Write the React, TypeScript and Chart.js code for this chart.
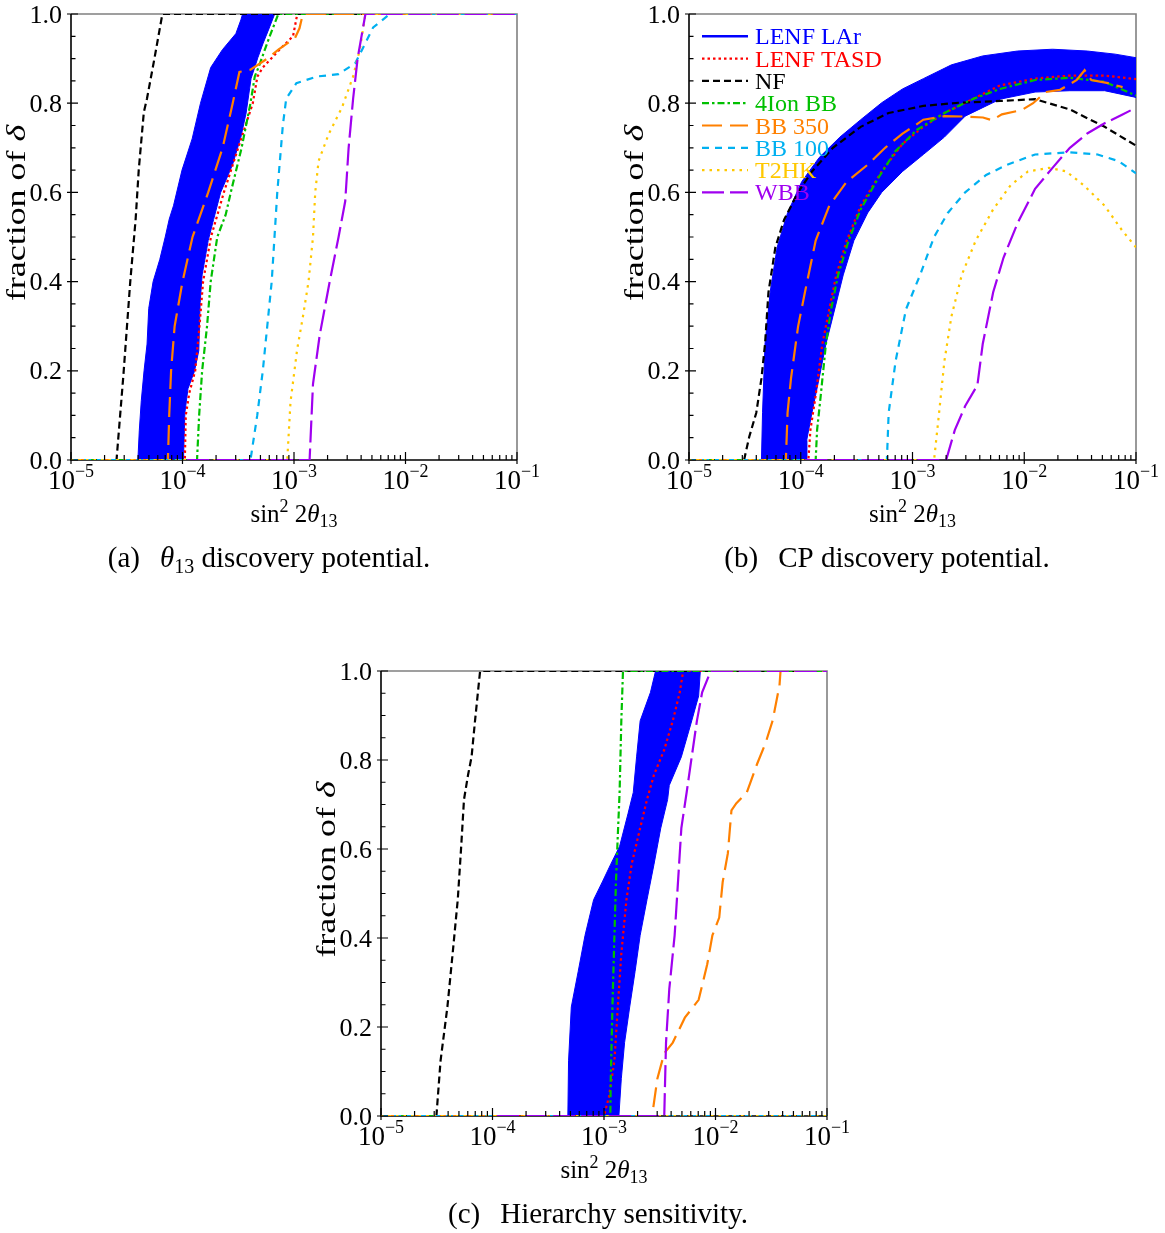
import React, { useEffect, useRef } from 'react';
import { Chart, registerables } from 'chart.js';

Chart.register(...registerables);

type Pt = [number, number];

// ---------- axes ----------
const X_MIN = 1e-5;
const X_MAX = 1e-1;
const X_DECADES = [-5, -4, -3, -2, -1];
const X_MINOR_MULT = [2, 3, 4, 5, 6, 7, 8, 9];
const Y_MAJOR = [0, 0.2, 0.4, 0.6, 0.8, 1.0];
const Y_MINOR = [0.05, 0.1, 0.15, 0.25, 0.3, 0.35, 0.45, 0.5, 0.55, 0.65, 0.7, 0.75, 0.85, 0.9, 0.95];
const SERIES = ['LENF LAr', 'LENF TASD', 'NF', '4Ion BB', 'BB 350', 'BB 100', 'T2HK', 'WBB'];

// ---------- (a) theta13 discovery ----------
const A_LAR: Pt[] = [
  [3.98e-5, 0], [4.1e-5, 0.067], [4.27e-5, 0.133], [4.52e-5, 0.2], [4.81e-5, 0.26], [4.98e-5, 0.34],
  [5.45e-5, 0.4], [6.26e-5, 0.45], [7.0e-5, 0.5], [7.6e-5, 0.54], [8.3e-5, 0.57], [9.9e-5, 0.65],
  [1.22e-4, 0.72], [1.45e-4, 0.8], [1.79e-4, 0.88], [2.28e-4, 0.92], [3.01e-4, 0.956], [3.34e-4, 0.987],
  [3.46e-4, 1.0], [6.71e-4, 1.0], [6.05e-4, 0.971], [5.26e-4, 0.933], [4.74e-4, 0.902], [4.12e-4, 0.855],
  [3.72e-4, 0.778], [3.34e-4, 0.724], [2.81e-4, 0.662], [2.2e-4, 0.6], [1.9e-4, 0.539], [1.7e-4, 0.492],
  [1.5e-4, 0.415], [1.44e-4, 0.353], [1.4e-4, 0.245], [1.28e-4, 0.199], [1.12e-4, 0.16], [1.05e-4, 0.106],
  [1.02e-4, 0],
];
const A_TASD: Pt[] = [
  [1e-5, 0], [1.05e-4, 0], [1.07e-4, 0.1], [1.15e-4, 0.15], [1.3e-4, 0.2], [1.42e-4, 0.3], [1.53e-4, 0.4],
  [1.8e-4, 0.5], [2.35e-4, 0.6], [3.16e-4, 0.7], [4.27e-4, 0.8], [4.7e-4, 0.86], [5.25e-4, 0.88],
  [7.4e-4, 0.92], [9.8e-4, 0.95], [1.07e-3, 1.0], [0.1, 1.0],
];
const A_NF: Pt[] = [
  [1e-5, 0], [2.56e-5, 0], [2.95e-5, 0.19], [3.4e-5, 0.4], [3.8e-5, 0.54], [4.05e-5, 0.65], [4.5e-5, 0.78],
  [4.8e-5, 0.81], [5.6e-5, 0.9], [6.6e-5, 1.0], [0.1, 1.0],
];
const A_4ION: Pt[] = [
  [1e-5, 0], [1.35e-4, 0], [1.41e-4, 0.1], [1.5e-4, 0.2], [1.66e-4, 0.3], [1.79e-4, 0.4], [2.05e-4, 0.5],
  [2.44e-4, 0.55], [2.71e-4, 0.6], [3.39e-4, 0.7], [4.07e-4, 0.8], [4.45e-4, 0.86], [4.8e-4, 0.88],
  [6.05e-4, 0.95], [7.24e-4, 1.0], [0.1, 1.0],
];
const A_BB350: Pt[] = [
  [1e-5, 0], [7.4e-5, 0], [7.6e-5, 0.1], [7.9e-5, 0.2], [8.5e-5, 0.3], [1.0e-4, 0.4], [1.23e-4, 0.5],
  [1.7e-4, 0.6], [2.29e-4, 0.7], [2.82e-4, 0.8], [3.24e-4, 0.87], [4.07e-4, 0.875], [5.75e-4, 0.9],
  [7.24e-4, 0.92], [1.02e-3, 0.946], [1.12e-3, 0.968], [1.2e-3, 1.0], [0.1, 1.0],
];
const A_BB100: Pt[] = [
  [1e-5, 0], [4.07e-4, 0], [4.68e-4, 0.1], [5.25e-4, 0.2], [6.31e-4, 0.4], [7.08e-4, 0.6], [7.94e-4, 0.75],
  [8.51e-4, 0.81], [1.05e-3, 0.845], [1.62e-3, 0.86], [2.51e-3, 0.865], [3.55e-3, 0.89], [4.27e-3, 0.93],
  [5.13e-3, 0.97], [7.24e-3, 1.0], [0.1, 1.0],
];
const A_T2HK: Pt[] = [
  [1e-5, 0], [8.7e-4, 0], [9.3e-4, 0.13], [1.07e-3, 0.25], [1.2e-3, 0.32], [1.35e-3, 0.4], [1.48e-3, 0.5],
  [1.55e-3, 0.6], [1.66e-3, 0.67], [2.04e-3, 0.73], [2.69e-3, 0.79], [3.39e-3, 0.86], [3.89e-3, 0.92],
  [4.37e-3, 1.0], [0.1, 1.0],
];
const A_WBB: Pt[] = [
  [1.1e-4, 0], [1.38e-3, 0], [1.48e-3, 0.17], [1.7e-3, 0.28], [2.09e-3, 0.4], [2.51e-3, 0.5], [2.88e-3, 0.58],
  [3.09e-3, 0.7], [3.39e-3, 0.81], [3.72e-3, 0.9], [4.37e-3, 1.0], [0.1, 1.0],
];

// ---------- (b) CP discovery ----------
const B_LAR: Pt[] = [
  [4.45e-5, 0], [4.55e-5, 0.106], [4.79e-5, 0.26], [5.32e-5, 0.376], [6.15e-5, 0.477], [7.62e-5, 0.554],
  [1.02e-4, 0.624], [1.46e-4, 0.678], [2.24e-4, 0.724], [3.44e-4, 0.763], [5.3e-4, 0.801], [8.15e-4, 0.832],
  [1.25e-3, 0.855], [2.23e-3, 0.886], [4.25e-3, 0.906], [8.71e-3, 0.917], [1.79e-2, 0.921], [3.66e-2, 0.917],
  [6.5e-2, 0.91], [0.1, 0.902], [0.1, 0.813], [5.24e-2, 0.828], [2.56e-2, 0.828], [1.25e-2, 0.825],
  [6.08e-3, 0.809], [2.96e-3, 0.771], [1.93e-3, 0.724], [1.25e-3, 0.685], [8.15e-4, 0.647], [5.3e-4, 0.6],
  [3.97e-4, 0.554], [2.99e-4, 0.492], [2.4e-4, 0.415], [1.94e-4, 0.322], [1.68e-4, 0.26], [1.46e-4, 0.183],
  [1.26e-4, 0.106], [1.13e-4, 0.044], [1.13e-4, 0],
];
const B_TASD: Pt[] = [
  [1e-5, 0], [1.17e-4, 0], [1.22e-4, 0.067], [1.36e-4, 0.145], [1.56e-4, 0.26], [1.8e-4, 0.338],
  [2.08e-4, 0.415], [2.58e-4, 0.492], [3.44e-4, 0.57], [5.3e-4, 0.647], [8.15e-4, 0.709], [1.25e-3, 0.747],
  [1.93e-3, 0.778], [2.96e-3, 0.801], [6.08e-3, 0.84], [1.25e-2, 0.855], [2.56e-2, 0.862], [5.24e-2, 0.862],
  [0.1, 0.854],
];
const B_NF: Pt[] = [
  [1e-5, 0], [3.11e-5, 0], [3.46e-5, 0.052], [4.0e-5, 0.106], [4.45e-5, 0.183], [4.79e-5, 0.26],
  [5.14e-5, 0.376], [5.93e-5, 0.477], [7.1e-5, 0.539], [9.46e-5, 0.6], [1.26e-4, 0.647], [1.94e-4, 0.7],
  [3.44e-4, 0.747], [6.11e-4, 0.778], [1.25e-3, 0.794], [2.57e-3, 0.801], [6.08e-3, 0.805], [1.25e-2, 0.809],
  [2.56e-2, 0.786], [5.24e-2, 0.747], [0.1, 0.705],
];
const B_4ION: Pt[] = [
  [1e-5, 0], [1.36e-4, 0], [1.4e-4, 0.067], [1.51e-4, 0.145], [1.68e-4, 0.26], [1.87e-4, 0.338],
  [2.16e-4, 0.415], [2.68e-4, 0.492], [3.44e-4, 0.562], [4.93e-4, 0.632], [7.06e-4, 0.693], [1.09e-3, 0.74],
  [1.93e-3, 0.778], [3.43e-3, 0.809], [6.08e-3, 0.832], [1.25e-2, 0.852], [2.56e-2, 0.857], [5.24e-2, 0.848],
  [0.1, 0.817],
];
const B_BB350: Pt[] = [
  [1e-5, 0], [7.36e-5, 0], [7.62e-5, 0.106], [8.18e-5, 0.183], [9.46e-5, 0.299], [1.09e-4, 0.376],
  [1.36e-4, 0.492], [1.8e-4, 0.57], [2.58e-4, 0.624], [3.97e-4, 0.662], [5.69e-4, 0.7], [8.15e-4, 0.732],
  [1.01e-3, 0.747], [1.25e-3, 0.763], [1.93e-3, 0.771], [2.95e-3, 0.77], [4.27e-3, 0.768], [5.13e-3, 0.762],
  [6.31e-3, 0.775], [9.55e-3, 0.785], [1.2e-2, 0.8], [1.55e-2, 0.825], [2.09e-2, 0.83], [2.95e-2, 0.852],
  [3.47e-2, 0.874], [3.98e-2, 0.852], [5.62e-2, 0.845], [7.59e-2, 0.836],
];
const B_BB100: Pt[] = [
  [1e-5, 0], [5.9e-4, 0], [6.12e-4, 0.106], [7.06e-4, 0.222], [8.75e-4, 0.338], [1.17e-3, 0.415],
  [1.56e-3, 0.5], [2.07e-3, 0.554], [2.96e-3, 0.6], [4.56e-3, 0.639], [7.02e-3, 0.662], [1.25e-2, 0.685],
  [2.56e-2, 0.69], [4.54e-2, 0.685], [6.98e-2, 0.67], [0.1, 0.643],
];
const B_T2HK: Pt[] = [
  [1e-5, 0], [1.56e-3, 0], [1.73e-3, 0.106], [1.93e-3, 0.222], [2.23e-3, 0.322], [2.76e-3, 0.415],
  [3.68e-3, 0.492], [5.27e-3, 0.562], [7.55e-3, 0.616], [1.08e-2, 0.647], [1.66e-2, 0.655], [2.38e-2, 0.647],
  [3.4e-2, 0.616], [5.24e-2, 0.57], [7.5e-2, 0.515], [0.1, 0.477],
];
const B_WBB: Pt[] = [
  [1.1e-4, 0], [2.0e-3, 0], [2.39e-3, 0.067], [2.96e-3, 0.121], [3.81e-3, 0.168], [4.25e-3, 0.26],
  [5.27e-3, 0.376], [6.53e-3, 0.454], [8.71e-3, 0.531], [1.25e-2, 0.608], [1.79e-2, 0.655], [2.56e-2, 0.7],
  [3.66e-2, 0.732], [5.24e-2, 0.755], [7.5e-2, 0.774], [0.1, 0.79],
];

// ---------- (c) hierarchy sensitivity ----------
const C_LAR: Pt[] = [
  [4.74e-4, 0], [4.81e-4, 0.124], [5.09e-4, 0.245], [5.87e-4, 0.325], [6.76e-4, 0.406], [8.07e-4, 0.486],
  [9.66e-4, 0.526], [1.15e-3, 0.566], [1.38e-3, 0.606], [1.64e-3, 0.679], [1.83e-3, 0.727], [1.96e-3, 0.807],
  [2.11e-3, 0.888], [2.61e-3, 0.952], [2.9e-3, 1.0], [7.31e-3, 1.0], [7.06e-3, 0.944], [6.12e-3, 0.888],
  [4.94e-3, 0.807], [3.85e-3, 0.743], [3.72e-3, 0.711], [3.23e-3, 0.647], [2.81e-3, 0.566], [2.43e-3, 0.486],
  [2.11e-3, 0.406], [1.9e-3, 0.325], [1.7e-3, 0.245], [1.53e-3, 0.165], [1.43e-3, 0.084], [1.36e-3, 0],
];
const C_TASD: Pt[] = [
  [1e-5, 0], [1.0e-3, 0], [1.11e-3, 0.044], [1.24e-3, 0.124], [1.33e-3, 0.245], [1.43e-3, 0.365],
  [1.59e-3, 0.486], [1.77e-3, 0.566], [2.11e-3, 0.647], [2.43e-3, 0.711], [2.81e-3, 0.767], [3.47e-3, 0.823],
  [4.14e-3, 0.888], [4.78e-3, 0.952], [5.13e-3, 1.0], [0.1, 1.0],
];
const C_NF: Pt[] = [
  [1e-5, 0], [3.14e-5, 0], [3.42e-5, 0.124], [3.94e-5, 0.245], [4.39e-5, 0.365], [4.88e-5, 0.486],
  [5.24e-5, 0.606], [5.55e-5, 0.711], [6.04e-5, 0.767], [6.49e-5, 0.807], [6.97e-5, 0.888], [7.74e-5, 1.0],
  [0.1, 1.0],
];
const C_4ION: Pt[] = [
  [1e-5, 0], [1.14e-3, 0], [1.15e-3, 0.084], [1.19e-3, 0.245], [1.24e-3, 0.406], [1.28e-3, 0.526],
  [1.33e-3, 0.631], [1.38e-3, 0.727], [1.43e-3, 0.888], [1.48e-3, 1.0], [0.1, 1.0],
];
const C_BB350: Pt[] = [
  [1e-5, 0], [2.7e-3, 0], [3.01e-3, 0.084], [3.47e-3, 0.141], [4.14e-3, 0.165], [5.31e-3, 0.221],
  [7.06e-3, 0.261], [8.43e-3, 0.341], [9.38e-3, 0.406], [1.08e-2, 0.446], [1.16e-2, 0.526], [1.29e-2, 0.59],
  [1.39e-2, 0.687], [1.54e-2, 0.703], [1.91e-2, 0.727], [2.36e-2, 0.791], [2.82e-2, 0.839], [3.25e-2, 0.888],
  [3.75e-2, 0.968], [3.83e-2, 1.0], [0.1, 1.0],
];
const C_BB100: Pt[] = [[1e-5, 0], [0.1, 0]];
const C_T2HK: Pt[] = [[1e-5, 0], [0.1, 0]];
const C_WBB: Pt[] = [
  [1.1e-4, 0], [3.47e-3, 0], [3.6e-3, 0.165], [3.85e-3, 0.285], [4.3e-3, 0.406], [4.61e-3, 0.526],
  [4.94e-3, 0.647], [5.51e-3, 0.727], [6.12e-3, 0.807], [6.81e-3, 0.888], [7.59e-3, 0.952], [9.06e-3, 1.0],
  [0.1, 1.0],
];

// ---------- styles ----------
const COLORS = ['#0000FF', '#FF0000', '#000000', '#00C000', '#FF8000', '#00B0F0', '#FFC800', '#A000F0'];
const DASHES: number[][] = [[], [2.5, 3], [7, 4], [7, 3, 2.5, 3], [20, 8], [7, 6], [2.5, 5], [22, 6]];
const FONT = "'Liberation Serif', 'DejaVu Serif', serif";

type Run = { t?: string; s?: number; it?: boolean; dy?: number; gap?: number; c?: string };

const fontOf = (r: Run) => `${r.it ? 'italic ' : ''}${r.s ?? 24}px ${FONT}`;

function widthOf(ctx: CanvasRenderingContext2D, runs: Run[]) {
  let w = 0;
  for (const r of runs) {
    if (r.gap) { w += r.gap; continue; }
    ctx.font = fontOf(r);
    w += ctx.measureText(r.t ?? '').width;
  }
  return w;
}

function drawRuns(ctx: CanvasRenderingContext2D, runs: Run[], x: number, y: number, align: 'left' | 'center' | 'right') {
  const w = widthOf(ctx, runs);
  let cx = align === 'center' ? x - w / 2 : align === 'right' ? x - w : x;
  ctx.textAlign = 'left';
  ctx.textBaseline = 'alphabetic';
  for (const r of runs) {
    if (r.gap) { cx += r.gap; continue; }
    ctx.font = fontOf(r);
    ctx.fillStyle = r.c ?? '#000';
    ctx.fillText(r.t ?? '', cx, y + (r.dy ?? 0));
    cx += ctx.measureText(r.t ?? '').width;
  }
}

type PanelCfg = {
  left: number; top: number; w: number; h: number;
  pad: { left: number; top: number; right: number; bottom: number };
  series: Pt[][];
  caption: Run[];
  captionX: number;
  legend: boolean;
};

const CAP = 29;
const PANELS: PanelCfg[] = [
  {
    left: 0, top: 0, w: 610, h: 600, pad: { left: 71, top: 14, right: 93, bottom: 140 },
    series: [A_LAR, A_TASD, A_NF, A_4ION, A_BB350, A_BB100, A_T2HK, A_WBB],
    caption: [{ t: '(a)', s: CAP }, { gap: 20 }, { t: 'θ', s: CAP, it: true }, { t: '13', s: 20, dy: 6 }, { t: ' discovery potential.', s: CAP }],
    captionX: 269, legend: false,
  },
  {
    left: 610, top: 0, w: 555, h: 600, pad: { left: 79, top: 14, right: 29, bottom: 140 },
    series: [B_LAR, B_TASD, B_NF, B_4ION, B_BB350, B_BB100, B_T2HK, B_WBB],
    caption: [{ t: '(b)', s: CAP }, { gap: 20 }, { t: 'CP discovery potential.', s: CAP }],
    captionX: 277, legend: true,
  },
  {
    left: 300, top: 640, w: 560, h: 593, pad: { left: 81, top: 31, right: 33, bottom: 117 },
    series: [C_LAR, C_TASD, C_NF, C_4ION, C_BB350, C_BB100, C_T2HK, C_WBB],
    caption: [{ t: '(c)', s: CAP }, { gap: 20 }, { t: 'Hierarchy sensitivity.', s: CAP }],
    captionX: 298, legend: false,
  },
];

function makeDeco(cfg: PanelCfg) {
  return {
    id: 'deco',
    beforeDatasetsDraw(chart: any) {
      const { ctx, chartArea: a } = chart;
      ctx.save();
      ctx.lineWidth = 1.6;
      ctx.setLineDash([]);
      ctx.strokeStyle = '#808080';
      ctx.beginPath();
      ctx.moveTo(a.left, a.top);
      ctx.lineTo(a.right, a.top);
      ctx.lineTo(a.right, a.bottom);
      ctx.stroke();
      ctx.strokeStyle = '#000';
      ctx.beginPath();
      ctx.moveTo(a.left, a.top);
      ctx.lineTo(a.left, a.bottom);
      ctx.lineTo(a.right, a.bottom);
      ctx.stroke();
      ctx.restore();
    },
    afterDatasetsDraw(chart: any) {
      const { ctx, chartArea: a } = chart;
      const xs = chart.scales.x;
      const ys = chart.scales.y;
      ctx.save();
      ctx.setLineDash([]);
      ctx.strokeStyle = '#000';
      ctx.lineWidth = 1.2;
      // y ticks
      ctx.beginPath();
      for (const v of Y_MAJOR) {
        const y = ys.getPixelForValue(v);
        ctx.moveTo(a.left - 4, y);
        ctx.lineTo(a.left + 7, y);
      }
      for (const v of Y_MINOR) {
        const y = ys.getPixelForValue(v);
        ctx.moveTo(a.left, y);
        ctx.lineTo(a.left + 4.5, y);
      }
      // x ticks
      for (const d of X_DECADES) {
        const x = xs.getPixelForValue(Math.pow(10, d));
        ctx.moveTo(x, a.bottom + 4);
        ctx.lineTo(x, a.bottom - 8);
        if (d < -1) {
          for (const m of X_MINOR_MULT) {
            const xm = xs.getPixelForValue(m * Math.pow(10, d));
            ctx.moveTo(xm, a.bottom);
            ctx.lineTo(xm, a.bottom - 5);
          }
        }
      }
      ctx.stroke();

      // y tick labels
      for (const v of Y_MAJOR) {
        const y = ys.getPixelForValue(v);
        drawRuns(ctx, [{ t: v.toFixed(1), s: 26 }], a.left - 9, y + 8.5, 'right');
      }
      // x tick labels
      for (const d of X_DECADES) {
        const x = xs.getPixelForValue(Math.pow(10, d));
        drawRuns(ctx, [{ t: '10', s: 27 }, { t: '−' + String(-d), s: 18, dy: -12 }], x, a.bottom + 29, 'center');
      }
      // axis titles
      const cx = (a.left + a.right) / 2;
      drawRuns(ctx, [
        { t: 'sin', s: 25 }, { t: '2', s: 18, dy: -10 }, { t: ' 2', s: 25 }, { t: 'θ', s: 25, it: true }, { t: '13', s: 18, dy: 5 },
      ], cx, a.bottom + 62, 'center');
      ctx.save();
      ctx.translate(a.left - 46, (a.top + a.bottom) / 2 - 24);
      ctx.rotate(-Math.PI / 2);
      ctx.scale(1.33, 1);
      drawRuns(ctx, [{ t: 'fraction of ', s: 27 }, { t: 'δ', s: 27, it: true }], 0, 0, 'center');
      ctx.restore();

      // caption
      drawRuns(ctx, cfg.caption, cfg.captionX, a.bottom + 107, 'center');

      // legend
      if (cfg.legend) {
        SERIES.forEach((name, i) => {
          const y = ys.getPixelForValue(0.95 - 0.05 * i);
          ctx.save();
          ctx.strokeStyle = COLORS[i];
          ctx.lineWidth = i === 0 ? 2.6 : 2.2;
          ctx.setLineDash(DASHES[i]);
          ctx.beginPath();
          ctx.moveTo(a.left + 13, y);
          ctx.lineTo(a.left + 59, y);
          ctx.stroke();
          ctx.restore();
          drawRuns(ctx, [{ t: name, s: 24, c: COLORS[i] }], a.left + 66, y + 8, 'left');
        });
      }
      ctx.restore();
    },
  };
}

function buildDatasets(series: Pt[][]) {
  const n = series.length;
  return series.map((pts, i) => {
    const base: any = {
      label: SERIES[i],
      data: pts.map(([x, y]) => ({ x, y })),
      borderColor: COLORS[i],
      borderWidth: 2.2,
      borderDash: DASHES[i],
      pointRadius: 0,
      tension: 0,
      fill: false,
      order: n - i,
    };
    if (i === 0) {
      base.backgroundColor = COLORS[0];
      base.borderWidth = 1;
      base.fill = 'shape';
    }
    return base;
  });
}

function Panel({ cfg }: { cfg: PanelCfg }) {
  const ref = useRef<HTMLCanvasElement>(null);
  useEffect(() => {
    const chart = new Chart(ref.current as HTMLCanvasElement, {
      type: 'line',
      data: { datasets: buildDatasets(cfg.series) },
      options: {
        animation: false,
        responsive: false,
        maintainAspectRatio: false,
        events: [],
        layout: { padding: cfg.pad },
        scales: {
          x: { type: 'logarithmic', min: X_MIN, max: X_MAX, display: false },
          y: { type: 'linear', min: 0, max: 1, display: false },
        },
        plugins: { legend: { display: false }, tooltip: { enabled: false } },
      } as any,
      plugins: [makeDeco(cfg) as any],
    });
    return () => chart.destroy();
  }, [cfg]);
  return (
    <canvas
      ref={ref}
      width={cfg.w}
      height={cfg.h}
      style={{ position: 'absolute', left: cfg.left, top: cfg.top, width: cfg.w, height: cfg.h }}
    />
  );
}

export default function App() {
  return (
    <div style={{ position: 'absolute', left: 0, top: 0, width: 1165, height: 1233, background: '#fff' }}>
      {PANELS.map((p, i) => <Panel key={i} cfg={p} />)}
    </div>
  );
}
